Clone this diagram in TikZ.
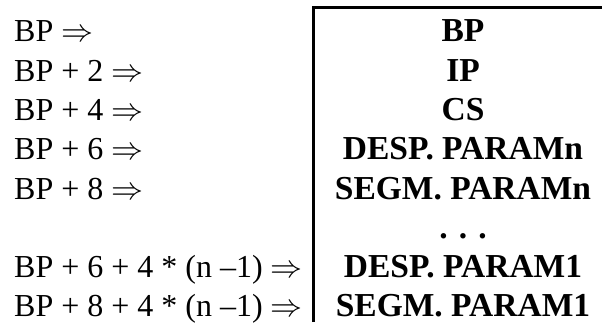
\RequirePackage{fix-cm}
\documentclass[tikz,border=0pt]{standalone}
\usepackage{fontspec}
\setmainfont{Liberation Serif}
\begin{document}
\begin{tikzpicture}[x=1pt,y=1pt,
  lbl/.style={anchor=base west,inner sep=0pt,font=\fontsize{32}{38}\selectfont},
  val/.style={anchor=base,inner sep=0pt,font=\fontsize{33.5}{40}\selectfont\bfseries},
  frame/.style={line width=3pt}]
\useasboundingbox (0,0) rectangle (602,-322);
\def\ar{$\Rightarrow$}
\node[lbl] (l1) at (14,-41.7) {BP \ar};
\node[lbl] (l2) at (14,-81) {BP + 2 \ar};
\node[lbl] (l3) at (14,-120.3) {BP + 4 \ar};
\node[lbl] (l4) at (14,-159.6) {BP + 6 \ar};
\node[lbl] (l5) at (14,-199) {BP + 8 \ar};
\node[lbl] (l7) at (14,-277.5) {BP + 6 + 4 * (n –1) \ar};
\node[lbl] (l8) at (14,-316.2) {BP + 8 + 4 * (n –1) \ar};
\node[val] (r1) at (463,-41.7) {BP};
\node[val] (r2) at (463,-81) {IP};
\node[val] (r3) at (463,-120.3) {CS};
\node[val] (r4) at (463,-159.6) {DESP. PARAMn};
\node[val] (r5) at (463,-199) {SEGM. PARAMn};
\node[val] (r6) at (463,-238) {. . .};
\node[val] (r7) at (463,-277.5) {DESP. PARAM1};
\node[val] (r8) at (463,-316.2) {SEGM. PARAM1};
\coordinate (bl) at (313.5,-322);
\coordinate (tl) at (313.5,-7.5);
\coordinate (tr) at (602,-7.5);
\draw[frame] (bl) -- (tl) -- (tr);
\end{tikzpicture}
\end{document}
